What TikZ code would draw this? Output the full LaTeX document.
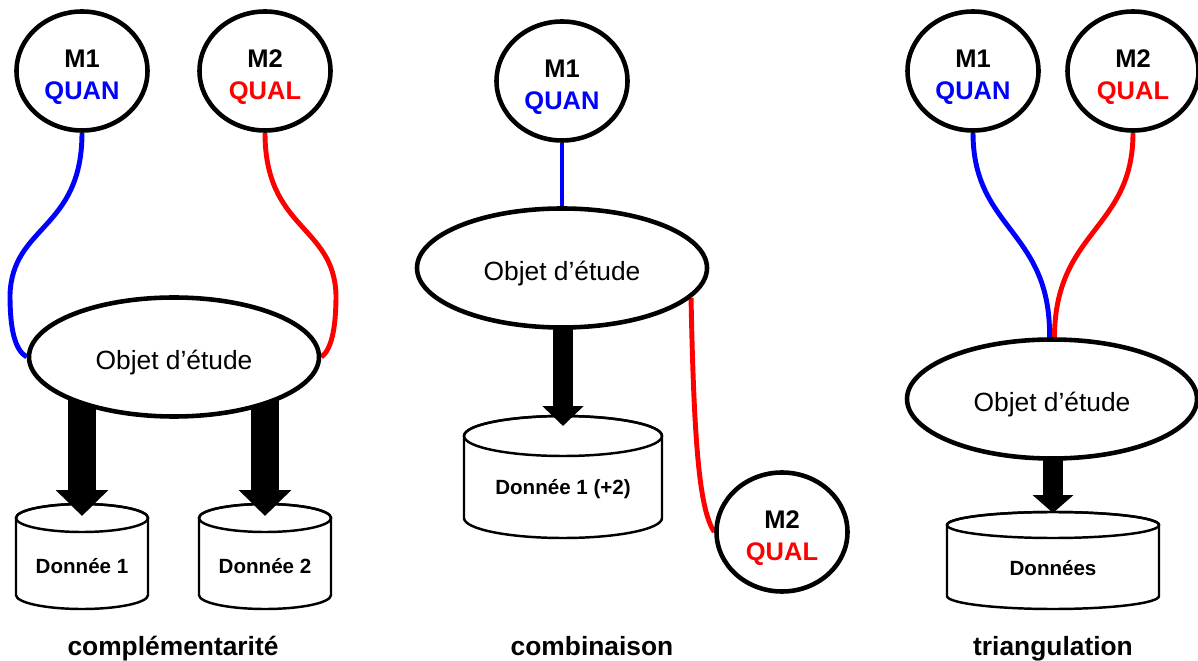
\documentclass[tikz,border=0pt]{standalone}
\usepackage{fontspec}
\setmainfont{Liberation Sans}
\usetikzlibrary{shapes.geometric,arrows.meta}
\pgfdeclarelayer{cyl}
\pgfdeclarelayer{arr}
\pgfsetlayers{cyl,arr,main}
\definecolor{qblue}{RGB}{0,0,255}
\definecolor{qred}{RGB}{255,0,0}
\tikzset{
  method/.style={ellipse, draw, line width=2.6pt, fill=white, minimum width=26.2mm, minimum height=23.8mm, inner sep=0pt, align=center, font=\fontsize{14.5}{18}\selectfont\bfseries},
  objet/.style={ellipse, draw, line width=2.6pt, fill=white, minimum width=58mm, minimum height=23.8mm, inner sep=0pt, font=\fontsize{15}{18}\selectfont},
  cylline/.style={draw, line width=1.4pt, fill=white},
  cyltext/.style={font=\fontsize{11.7}{14}\selectfont\bfseries, inner sep=0pt},
  title/.style={font=\fontsize{15}{18}\selectfont\bfseries, anchor=base, inner sep=0pt},
  quanline/.style={qblue, line width=2.8pt},
  qualline/.style={qred, line width=2.8pt},
  bigarrowA/.style={line width=15.9pt, -{Triangle[width=28.9pt,length=14.7pt]}},
  bigarrowB/.style={line width=11.3pt, -{Triangle[width=22.7pt,length=11.3pt]}},
  bigarrowC/.style={line width=11.3pt, -{Triangle[width=22.7pt,length=10.2pt]}},
}
% method label: first line, coloured second line
\newcommand\mlab[3]{\rule{0pt}{17.2pt}#1\\\textcolor{#2}{#3}}
\newcommand\olab{\rule{0pt}{17.9pt}Objet d’étude}
% name, cx, ytop, ybot, rx, ry, ytext, label
\newcommand\dbcyl[8]{%
  \begin{pgfonlayer}{cyl}
    \path[cylline] ({#2-#5},#3) -- ({#2-#5},#4)
      arc[start angle=180,end angle=360,x radius={#5*0.2mm},y radius={#6*0.2mm}]
      -- ({#2+#5},#3)
      arc[start angle=0,end angle=180,x radius={#5*0.2mm},y radius={#6*0.2mm}] -- cycle;
    \draw[line width=1.4pt] (#2,#3) ellipse[x radius={#5*0.2mm},y radius={#6*0.2mm}];
  \end{pgfonlayer}
  \node[cyltext] (#1) at (#2,#7) {#8};
}
\begin{document}
\begin{tikzpicture}[x=0.2mm,y=-0.2mm]
\useasboundingbox (0,0) rectangle (1198,661);

% ---------- panel 1 : complementarite
\node[method] (m1a) at (82,71) {\mlab{M1}{qblue}{QUAN}};
\node[method] (m2a) at (265,71) {\mlab{M2}{qred}{QUAL}};
\node[objet] (obj1) at (174,357) {\olab};
\dbcyl{d1}{82}{518}{595}{66}{14}{566}{Donnée 1}
\dbcyl{d2}{265}{518}{595}{66}{14}{566}{Donnée 2}
\coordinate (tipA) at (82,516);
\coordinate (tipB) at (265,516);
\node[title] (ti1) at (173,655) {complémentarité};

% ---------- panel 2 : combinaison
\node[method] (m1b) at (562,81) {\mlab{M1}{qblue}{QUAN}};
\node[objet] (obj2) at (562,268) {\olab};
\node[method] (m2b) at (782,532) {\mlab{M2}{qred}{QUAL}};
\dbcyl{d3}{563}{436}{518}{99}{20}{489}{Donnée 1 (+2)}
\coordinate (tipC) at (563,426);
\node[title] (ti2) at (592,655) {combinaison};

% ---------- panel 3 : triangulation
\node[method] (m1c) at (973,71) {\mlab{M1}{qblue}{QUAN}};
\node[method] (m2c) at (1133,71) {\mlab{M2}{qred}{QUAL}};
\node[objet] (obj3) at (1052,399) {\olab};
\dbcyl{d4}{1053}{525}{596}{106}{13}{568}{Données}
\coordinate (tipD) at (1053,513);
\node[title] (ti3) at (1053,655) {triangulation};

% ---------- connectors
\begin{pgfonlayer}{arr}
  \draw[bigarrowA] (obj1.center -| tipA) -- (tipA);
  \draw[bigarrowA] (obj1.center -| tipB) -- (tipB);
  \draw[bigarrowB] (obj2.center -| tipC) -- (tipC);
  \draw[bigarrowC] (obj3.center -| tipD) -- (tipD);

  \draw[quanline] (m1a.south) .. controls (82,230) and (12,225) .. (10,295)
                  .. controls (10,330) and (15,350) .. (obj1.west);
  \draw[qualline] (m2a.south) .. controls (265,230) and (334,225) .. (336,295)
                  .. controls (336,330) and (331,350) .. (obj1.east);

  \draw[quanline] (m1b.south) -- (obj2.north);
  \draw[qualline] (obj2.-13) .. controls (694,450) and (700,510) .. (m2b.west);

  \draw[quanline] (m1c.south) .. controls (973,230) and (1051,230) .. ([xshift=-1.4pt]obj3.north);
  \draw[qualline] (m2c.south) .. controls (1133,230) and (1055,230) .. ([xshift=1.4pt]obj3.north);
\end{pgfonlayer}
\end{tikzpicture}
\end{document}
